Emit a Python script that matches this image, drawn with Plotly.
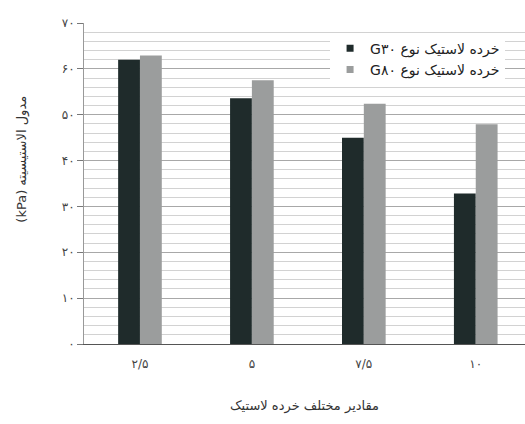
import plotly.graph_objects as go

categories = ["۲/۵", "۵", "۷/۵", "۱۰"]
g30_values = [62.0, 53.6, 45.0, 32.8]
g80_values = [62.9, 57.5, 52.4, 47.9]
series_names = ["G۳۰ خرده لاستیک نوع", "G۸۰ خرده لاستیک نوع"]
series_colors = ["#1f2b2b", "#9b9d9d"]
y_tick_values = [0, 10, 20, 30, 40, 50, 60, 70]
y_tick_labels = ["۰", "۱۰", "۲۰", "۳۰", "۴۰", "۵۰", "۶۰", "۷۰"]
x_title = "مقادیر مختلف خرده لاستیک"
y_title = "(kPa) مدول الاستیسیته"

FONT = "DejaVu Sans"

fig = go.Figure()
for vals, name, col in zip([g30_values, g80_values], series_names, series_colors):
    fig.add_trace(go.Bar(x=categories, y=vals, name=name, showlegend=False,
                         marker=dict(color=col, line=dict(width=0))))
# small square legend keys
for name, col in zip(series_names, series_colors):
    fig.add_trace(go.Scatter(x=[None], y=[None], mode="markers", name=name,
                             marker=dict(symbol="square", size=7, color=col)))

fig.update_layout(
    width=525, height=424,
    margin=dict(l=84, r=0, t=23, b=80),
    paper_bgcolor="white", plot_bgcolor="white",
    barmode="group", bargap=0.61, bargroupgap=0,
    font=dict(family=FONT, color="#333333", size=12),
    legend=dict(x=0.558, y=0.97, xanchor="left", yanchor="top",
                bgcolor="white", font=dict(size=14, color="#222222"),
                tracegroupgap=0, itemwidth=30),
    xaxis=dict(range=[-0.5, 3.44], showgrid=False,
               ticks="outside", ticklen=9, tickcolor="rgba(0,0,0,0)",
               showline=True, linecolor="#555555", linewidth=1,
               tickfont=dict(size=12, color="#444444"),
               title=dict(text=x_title, font=dict(size=13, color="#333333"), standoff=30)),
    yaxis=dict(range=[0, 70], tickvals=y_tick_values, ticktext=y_tick_labels,
               showgrid=True, gridcolor="#a8a8a8", gridwidth=1,
               minor=dict(dtick=2, showgrid=True, gridcolor="#d2d2d2", gridwidth=1),
               ticks="outside", ticklen=6, tickcolor="#777777",
               showline=True, linecolor="#999999", linewidth=1,
               zeroline=False,
               tickfont=dict(size=12, color="#444444")),
    annotations=[dict(text=y_title, textangle=-90, xref="paper", yref="paper",
                      x=-0.14, y=0.575, xanchor="center", yanchor="middle",
                      showarrow=False, font=dict(size=13, color="#333333"))],
)

fig.write_html("out.html")
